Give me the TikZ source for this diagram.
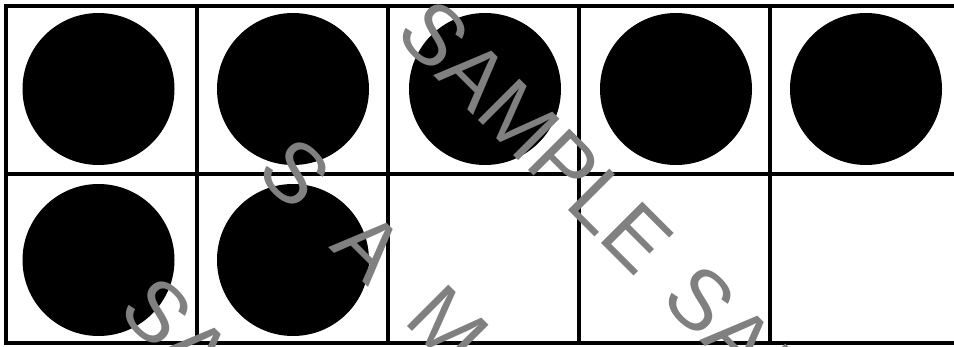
\documentclass[tikz,border=0pt]{standalone}
\usepackage{fontspec}
\setmainfont{Liberation Sans}
\definecolor{wmgray}{HTML}{808080}
\begin{document}
\begin{tikzpicture}[x=1pt,y=-1pt,
  cell/.style={draw=black,line width=4pt,minimum width=191pt,minimum height=168.5pt,inner sep=0pt,outer sep=0pt},
  dot/.style={circle,fill=black,minimum size=152pt,inner sep=0pt},
  wm/.style={text=wmgray,rotate=-45,anchor=base west,inner sep=0pt,font=\fontsize{85}{100}\selectfont}]
\useasboundingbox (0,0) rectangle (954,347);
\clip (0,0) rectangle (954,347);
\fill[white] (0,0) rectangle (954,347);
% cells
\foreach \i in {0,...,4}{
  \node[cell] (t\i) at ({6+191*(\i+0.5)},90) {};
  \node[cell] (b\i) at ({6+191*(\i+0.5)},258.5) {};
}
% dots
\node[dot] (d1) at (98.5,89) {};
\node[dot] (d2) at (293,89) {};
\node[dot] (d3) at (485,89) {};
\node[dot] (d4) at (676,89) {};
\node[dot] (d5) at (866,89) {};
\node[dot] (d6) at (98.5,260) {};
\node[dot] (d7) at (293,260) {};
% watermarks
\node[wm] (w1) at (393,35) {SAMPLE};
\node[wm] (w2) at (254,173) {S\hspace{48pt}A\hspace{48pt}M\hspace{48pt}P\hspace{48pt}L\hspace{48pt}E};
\node[wm] (w3) at (116,312) {SAMPLE};
\node[wm] (w4) at (659,300) {SAMPLE};
\end{tikzpicture}
\end{document}
